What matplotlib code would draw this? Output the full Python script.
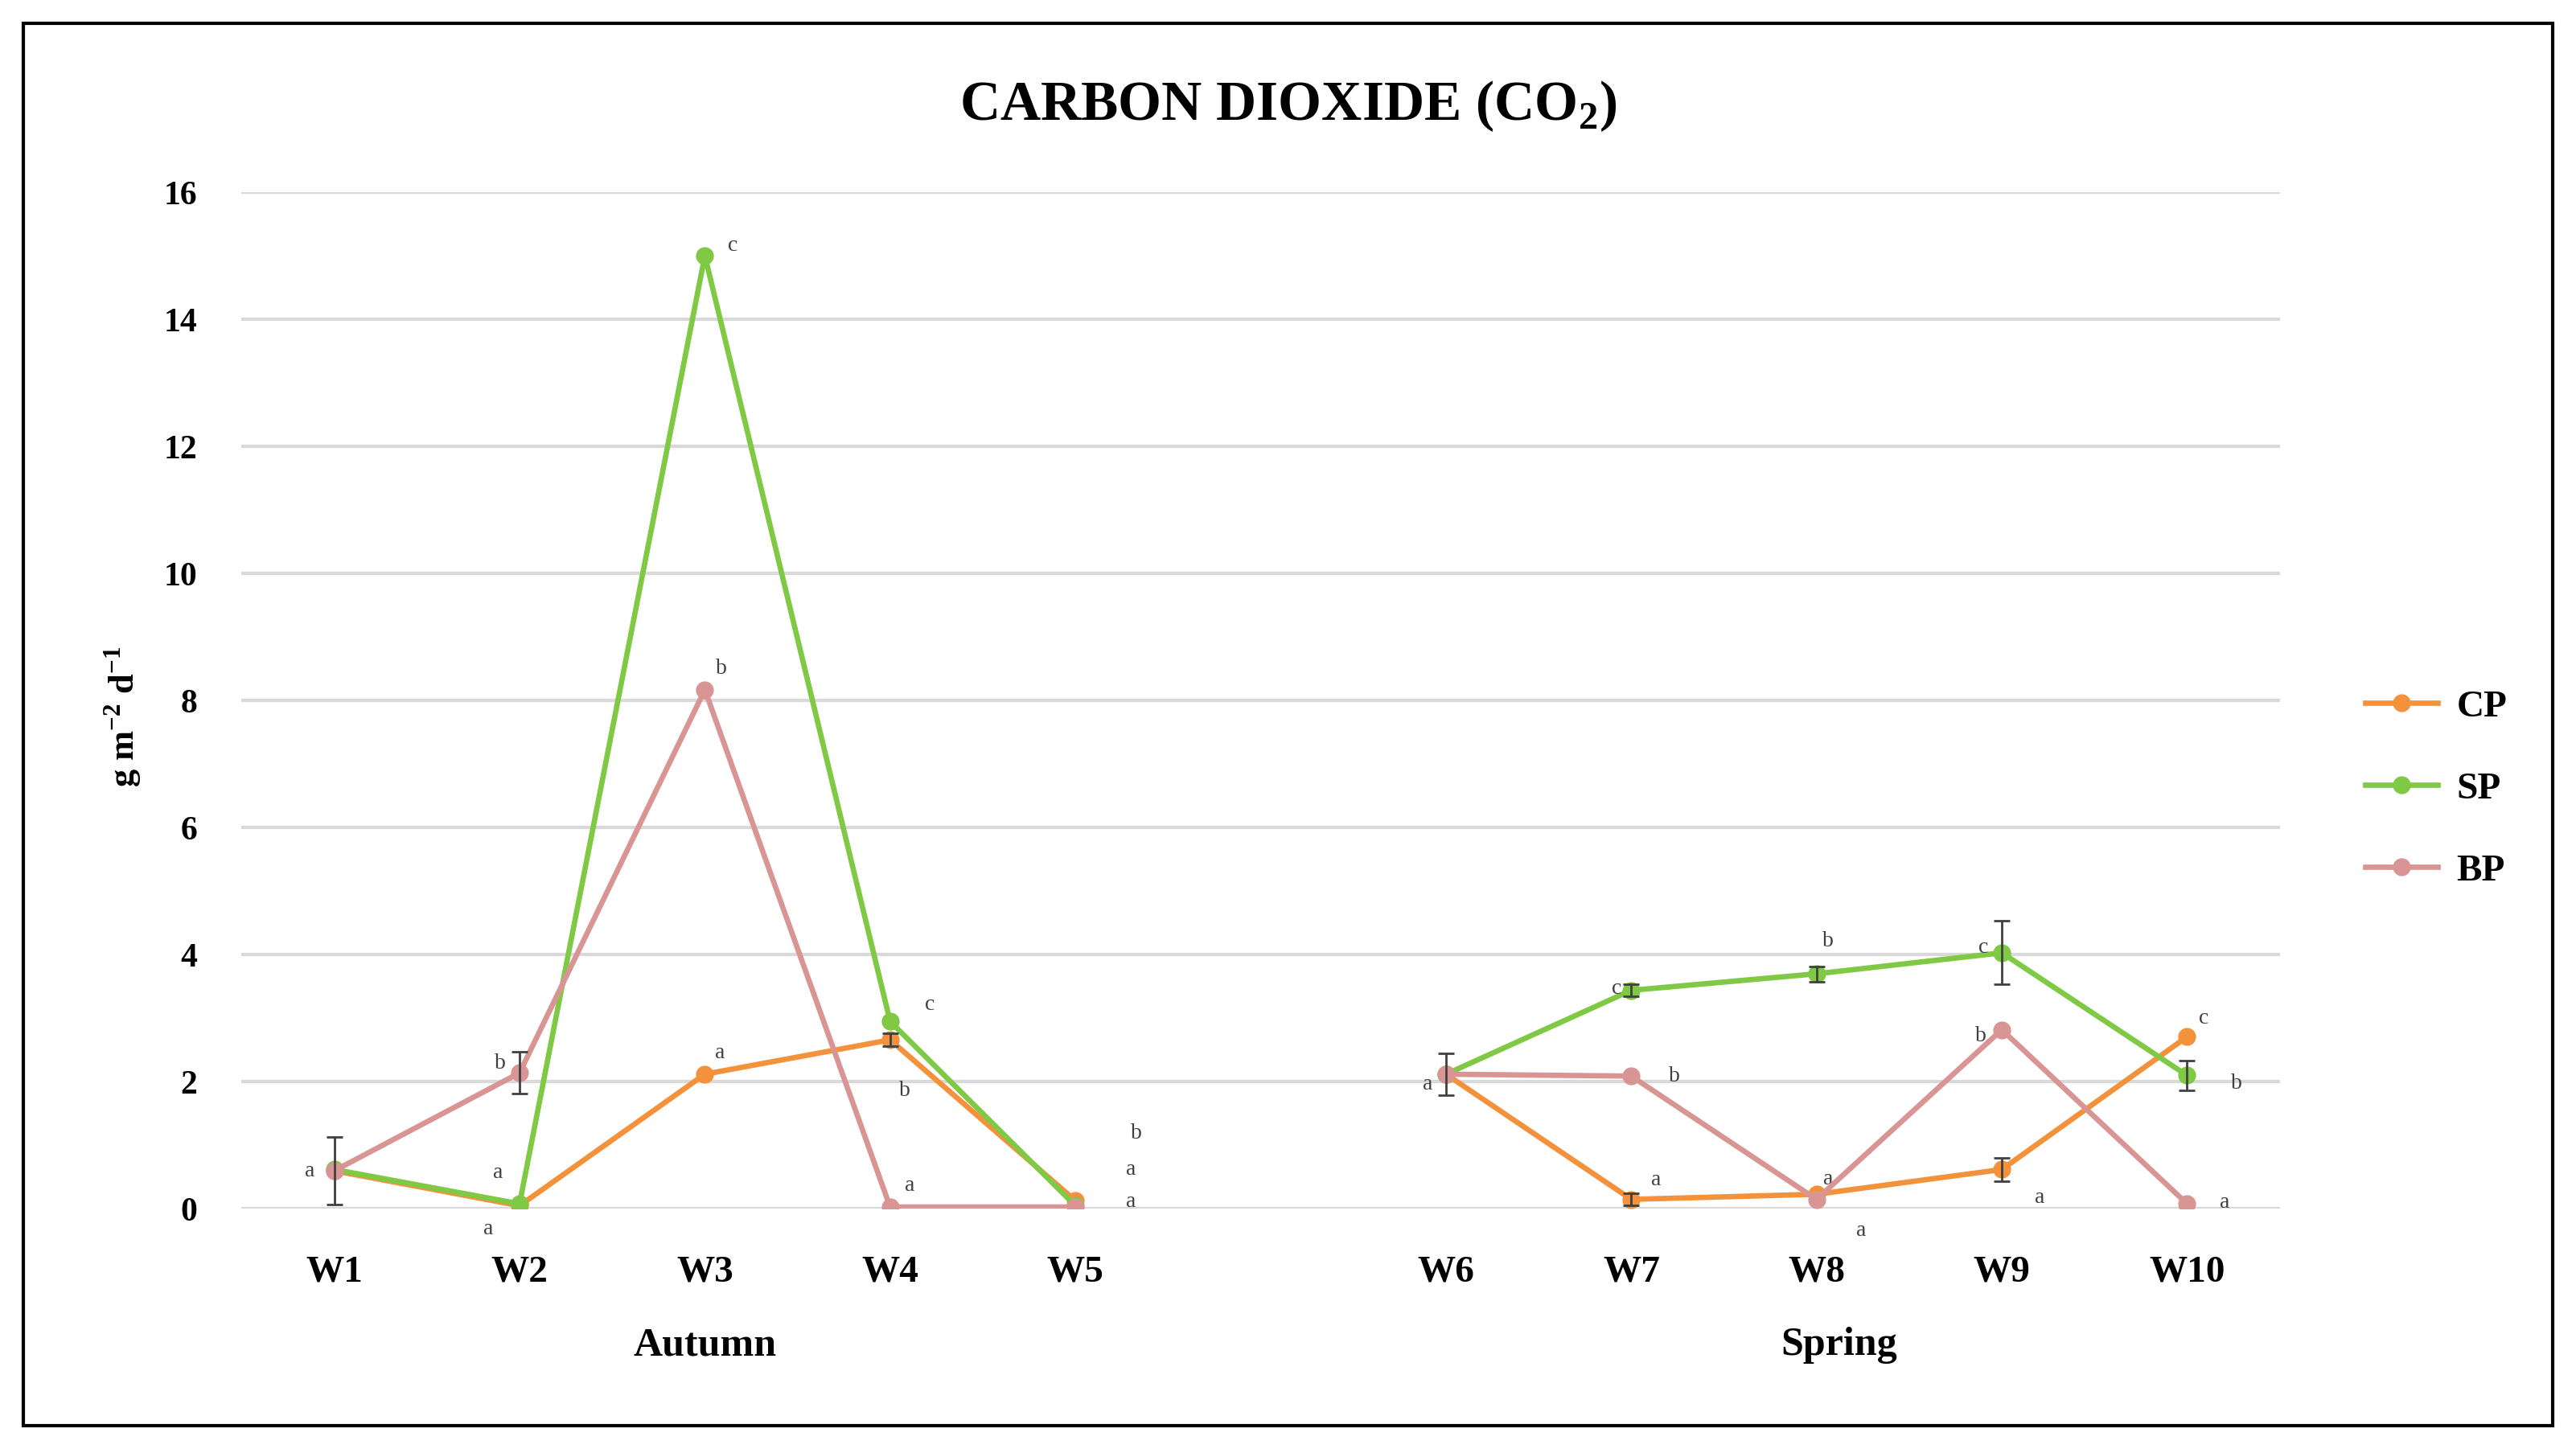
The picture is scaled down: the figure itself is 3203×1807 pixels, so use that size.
import matplotlib.pyplot as plt
from matplotlib.lines import Line2D
from matplotlib.patches import Rectangle

plt.rcParams['font.family'] = ['Liberation Serif', 'DejaVu Serif']
plt.rcParams['mathtext.fontset'] = 'custom'
plt.rcParams['mathtext.rm'] = 'Liberation Serif'
plt.rcParams['mathtext.bf'] = 'Liberation Serif:bold'

weeks = ['W1', 'W2', 'W3', 'W4', 'W5', 'W6', 'W7', 'W8', 'W9', 'W10']
seasons = ['Autumn', 'Spring']
series = ['CP', 'SP', 'BP']

cp = [0.60, 0.05, 2.12, 2.66, 0.13, 2.12, 0.15, 0.23, 0.62, 2.71]
sp = [0.62, 0.08, 15.0, 2.95, 0.05, 2.12, 3.44, 3.70, 4.03, 2.10]
bp = [0.60, 2.14, 8.17, 0.03, 0.03, 2.12, 2.09, 0.15, 2.82, 0.08]

cp_err = [0, 0, 0, 0.10, 0, 0, 0.10, 0, 0.18, 0]
sp_err = [0, 0, 0, 0, 0, 0, 0.10, 0.12, 0.50, 0.23]
bp_err = [0.53, 0.33, 0, 0, 0, 0.33, 0, 0, 0, 0]

cp_let = ['', 'a', 'a', 'b', 'b', '', 'a', 'a', 'a', 'c']
sp_let = ['', 'a', 'c', 'c', 'a', '', 'c', 'b', 'c', 'b']
bp_let = ['a', 'b', 'b', 'a', 'a', 'a', 'b', 'a', 'b', 'a']

# label offsets (reference-screen px, +right / +down)
cp_off = [(0, 0), (-19, 14), (9, -13), (9, 31), (37, -41), (0, 0), (15, -12), (7, -9), (23, 17), (10, -11)]
sp_off = [(0, 0), (-13, -19), (17, -6), (24, -10), (34, -22), (0, 0), (-9, -1), (7, -20), (-11, -3), (30, 5)]
bp_off = [(-15, 0), (-12, -6), (10, -13), (12, -13), (34, -3), (-11, 6), (26, 0), (27, 19), (-13, 4), (23, -1)]

colors = ['#F4923C', '#7FC944', '#D99594']
S = 2.043

xpos = [0, 1, 2, 3, 4, 6, 7, 8, 9, 10]

fig = plt.figure(figsize=(32.03, 18.07), dpi=100)
ax = fig.add_axes([0.0938, 0.168, 0.7912, 0.6997])

data = [(cp, cp_err, cp_let, cp_off), (sp, sp_err, sp_let, sp_off), (bp, bp_err, bp_let, bp_off)]
for (vals, err, lets, offs), col, name in zip(data, colors, series):
    for sl in (slice(0, 5), slice(5, 10)):
        ax.plot(xpos[sl], vals[sl], color=col, lw=4.8, marker='o', ms=15, zorder=3)
    for x, v, e in zip(xpos, vals, err):
        if e > 0:
            ax.errorbar(x, v, yerr=e, fmt='none', ecolor='#404040', elinewidth=2, capsize=7, capthick=2, zorder=4)
    for x, v, t, (dx, dy) in zip(xpos, vals, lets, offs):
        if t:
            ax.annotate(t, (x, v), xytext=(dx * S, -dy * S), textcoords='offset pixels',
                        ha='center', va='center', fontsize=20, color='#404040')

ax.set_xlim(-0.5, 10.5)
ax.set_ylim(0, 16)
ax.set_yticks(range(0, 17, 2))
ax.set_xticks(xpos)
ax.set_xticklabels(weeks, fontsize=34, fontweight='bold')
ax.tick_params(axis='y', labelsize=30, length=0, pad=40)
ax.tick_params(axis='x', length=0, pad=42)
for lab in ax.get_yticklabels():
    lab.set_fontweight('bold')
ax.grid(axis='y', color='#D9D9D9', lw=3)
ax.set_axisbelow(True)
for sp_ in ax.spines.values():
    sp_.set_visible(False)

ax.text(2, -2.15, seasons[0], ha='center', va='center', fontsize=36, fontweight='bold')
ax.text(8.12, -2.15, seasons[1], ha='center', va='center', fontsize=36, fontweight='bold')

fig.text(0.048, 0.507, r'g m$^{\mathbf{-2}}$ d$^{\mathbf{-1}}$', rotation=90, ha='center', va='center',
         fontsize=32, fontweight='bold')
fig.text(0.5, 0.927, r'CARBON DIOXIDE (CO$_{\mathbf{2}}$)', ha='center', va='center',
         fontsize=50, fontweight='bold')

handles = [Line2D([], [], color=c, lw=4.8, marker='o', ms=15) for c in colors]
fig.legend(handles, series, loc='center left', bbox_to_anchor=(0.905, 0.457), frameon=False,
           prop={'size': 34, 'weight': 'bold'}, handlelength=1.9, handletextpad=0.5, labelspacing=1.25)

fig.patches.append(Rectangle((0.009, 0.019), 0.982, 0.965, transform=fig.transFigure,
                             fill=False, ec='black', lw=3))

fig.savefig('out.png', dpi=100)
